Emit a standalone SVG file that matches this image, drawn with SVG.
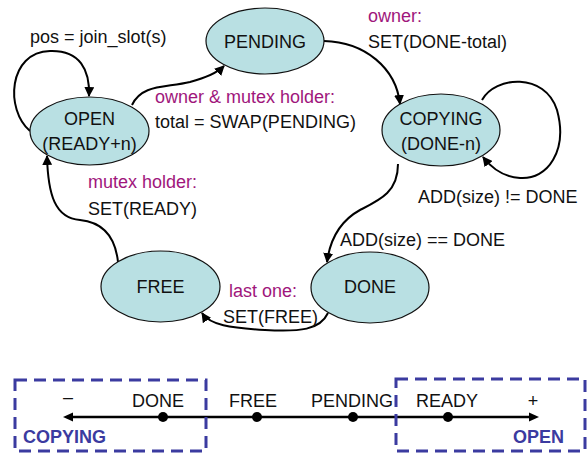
<svg xmlns="http://www.w3.org/2000/svg" width="587" height="454" viewBox="0 0 587 454">
<defs>
<style>
text{font-family:"Liberation Sans",Arial,sans-serif;font-size:18px;fill:#111}
.st{fill:#b9e0e3;stroke:#111;stroke-width:1.2}
.c{fill:none;stroke:#000;stroke-width:2}
.p{fill:#a0167c}
.m{text-anchor:middle}
.box{fill:none;stroke:#3b3ba0;stroke-width:3;stroke-dasharray:12 7}
.b{fill:#3b3ba0;font-weight:bold}
</style>
<marker id="ah" viewBox="0 0 10 10" refX="9" refY="5" markerWidth="5" markerHeight="5" orient="auto"><path d="M0,0 L10,5 L0,10 z" fill="#000"/></marker>
</defs>
<rect width="587" height="454" fill="#fff"/>
<g id="connectors">
<path class="c" marker-end="url(#ah)" d="M30,131 C5,110 8,52 50,51 C80,50 90,70 89,96"/>
<path class="c" marker-end="url(#ah)" d="M132,105 C142,84 165,88 190,82 C205,78 216,74 224,66"/>
<path class="c" marker-end="url(#ah)" d="M324,41 C365,42 396,68 400,104"/>
<path class="c" marker-end="url(#ah)" d="M482,100 C495,76 545,72 557,110 C568,150 548,180 520,178 C502,177 490,166 483,157"/>
<path class="c" marker-end="url(#ah)" d="M398,164 C398,192 380,200 360,210 C340,221 330,240 327,262"/>
<path class="c" marker-end="url(#ah)" d="M328,313 C320,330 300,332 265,330 C230,328 210,325 202,313"/>
<path class="c" marker-end="url(#ah)" d="M118,262 C115,234 100,222 80,220 C55,218 48,195 47,156"/>
</g>
<g id="PENDING"><ellipse class="st" cx="265" cy="41" rx="59" ry="33"/><text class="m" x="265" y="48">PENDING</text></g>
<g id="OPEN"><ellipse class="st" cx="89.5" cy="131" rx="59.5" ry="34"/><text class="m" x="89.5" y="125">OPEN</text><text class="m" x="89.5" y="150">(READY+n)</text></g>
<g id="COPYING"><ellipse class="st" cx="441" cy="130" rx="59" ry="36"/><text class="m" x="441" y="125">COPYING</text><text class="m" x="441" y="150">(DONE-n)</text></g>
<g id="FREE"><ellipse class="st" cx="160.5" cy="286.5" rx="59.5" ry="35.5"/><text class="m" x="160.5" y="293">FREE</text></g>
<g id="DONE"><ellipse class="st" cx="370" cy="287.5" rx="59" ry="35.5"/><text class="m" x="370" y="293">DONE</text></g>
<g id="labels">
<text x="30" y="43">pos = join_slot(s)</text>
<text class="p" x="155" y="103">owner &amp; mutex holder:</text>
<text x="155" y="128">total = SWAP(PENDING)</text>
<text class="p" x="368" y="22">owner:</text>
<text x="368" y="48">SET(DONE-total)</text>
<text class="p" x="88" y="188">mutex holder:</text>
<text x="88" y="215">SET(READY)</text>
<text x="418" y="203">ADD(size) != DONE</text>
<text x="340" y="246">ADD(size) == DONE</text>
<text class="p" x="229" y="297">last one:</text>
<text x="223" y="323">SET(FREE)</text>
</g>
<g id="scale">
<line x1="533" y1="417" x2="68" y2="417" stroke="#000" stroke-width="2.5"/>
<path d="M63,417 L73,412.5 L73,421.5 z" fill="#000"/>
<path d="M539,417 L529,412.5 L529,421.5 z" fill="#000"/>
<circle cx="163" cy="417" r="5"/>
<circle cx="257" cy="417" r="5"/>
<circle cx="353" cy="417" r="5"/>
<circle cx="448" cy="417" r="5"/>
<text class="m" x="68" y="403">–</text>
<text class="m" x="158" y="407">DONE</text>
<text class="m" x="253" y="407">FREE</text>
<text class="m" x="352" y="407">PENDING</text>
<text class="m" x="447" y="407">READY</text>
<text class="m" x="533" y="407">+</text>
<rect class="box" x="15" y="380" width="191" height="71"/>
<rect class="box" x="396" y="379" width="189" height="72"/>
<text class="b" x="23" y="443">COPYING</text>
<text class="b" x="513" y="443">OPEN</text>
</g>
</svg>
